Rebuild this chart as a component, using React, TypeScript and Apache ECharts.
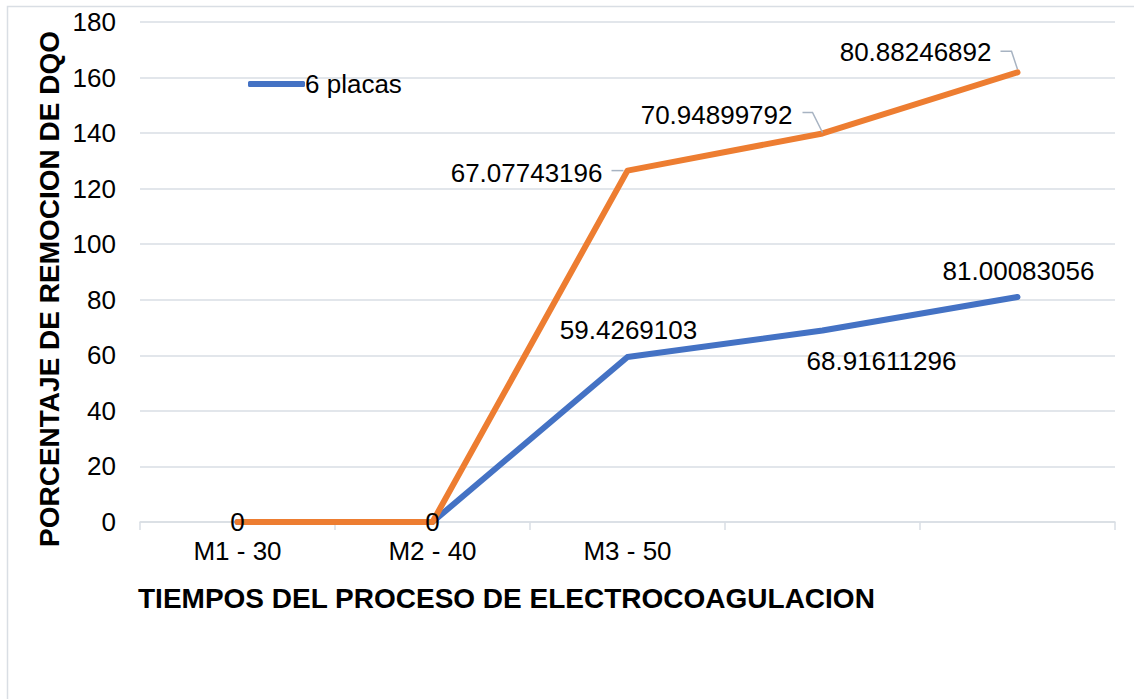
import React, { useEffect, useRef } from "react";
import * as echarts from "echarts";

const categories = ["M1 - 30", "M2 - 40", "M3 - 50", "", ""];
const seriesBlueName = "6 placas";
const seriesOrangeName = "Serie 2";
const blueValues = [0, 0, 59.4269103, 68.91611296, 81.00083056];
const orangeValues = [0, 0, 67.07743196, 70.94899792, 80.88246892];
const yTicks = { min: 0, max: 180, interval: 20 };
const xTitle = "TIEMPOS DEL PROCESO DE ELECTROCOAGULACION";
const yTitle = "PORCENTAJE DE REMOCION DE DQO";

// label placement (pixel offsets from each point), kept apart from data
const blueLabelOffsets: (number[] | null)[] = [null, null, [1, -27], [59, 30], [1, -26]];
const orangeLabelOffsets: number[][] = [[0, 0], [0, 0], [-25, 2], [-30, -18], [-26, -20]];
const orangeLabelAlign = ["center", "center", "right", "right", "right"];
const orangeLeaders: (number[][] | null)[] = [
  null,
  null,
  [[-16, 0], [-4, 0]],
  [[-20, -21], [-10, -21], [0, -1]],
  [[-17, -21], [-6, -21], [0, -3]],
];

const FONT = "'Liberation Sans', Arial, sans-serif";
const BLUE = "#4472C4";
const ORANGE = "#ED7D31";
const GRID = "#D9DEE4";
const LEADER = "#A7B3C2";

export default function App() {
  const ref = useRef<HTMLDivElement>(null);

  useEffect(() => {
    if (!ref.current) return;
    const chart = echarts.init(ref.current, null, { renderer: "svg" });

    const fmt = (p: any) => String(p.value);

    const blueData = blueValues.map((v, i) => {
      const off = blueLabelOffsets[i];
      return {
        value: v,
        label: off
          ? { show: true, position: "inside", align: "center", verticalAlign: "middle", offset: off }
          : { show: false },
      };
    });
    const orangeData = orangeValues.map((v, i) => ({
      value: v,
      label: {
        show: true,
        position: "inside",
        align: orangeLabelAlign[i],
        verticalAlign: "middle",
        offset: orangeLabelOffsets[i],
      },
    }));

    const labelText = { fontSize: 26, fontFamily: FONT, color: "#000", formatter: fmt };

    chart.setOption({
      animation: false,
      backgroundColor: "#fff",
      textStyle: { fontFamily: FONT },
      grid: { left: 140, right: 19, top: 22, bottom: 177, containLabel: false },
      legend: {
        data: [seriesBlueName],
        left: 243,
        top: 66,
        icon: "roundRect",
        itemWidth: 57,
        itemHeight: 6,
        itemGap: 4,
        textStyle: { fontSize: 26, color: "#000", fontFamily: FONT, padding: [0, 0, 0, -5] },
        selectedMode: false,
      },
      xAxis: {
        type: "category",
        data: categories,
        boundaryGap: true,
        axisLine: { show: true, lineStyle: { color: GRID, width: 1.5 } },
        axisTick: { show: true, length: 8, lineStyle: { color: GRID, width: 1.5 } },
        axisLabel: { fontSize: 26, color: "#000", fontFamily: FONT, margin: 16, interval: 0 },
        splitLine: { show: false },
      },
      yAxis: {
        type: "value",
        min: yTicks.min,
        max: yTicks.max,
        interval: yTicks.interval,
        axisLine: { show: false },
        axisTick: { show: false },
        axisLabel: { fontSize: 26, color: "#000", fontFamily: FONT, margin: 24 },
        splitLine: { show: true, lineStyle: { color: GRID, width: 1.5 } },
      },
      series: [
        {
          name: seriesBlueName,
          type: "line",
          stack: "total",
          data: blueData,
          color: BLUE,
          symbol: "circle",
          symbolSize: 5,
          showSymbol: true,
          lineStyle: { width: 6, color: BLUE, cap: "round", join: "round" },
          itemStyle: { color: BLUE },
          label: { ...labelText },
          emphasis: { disabled: true },
          z: 2,
        },
        {
          name: seriesOrangeName,
          type: "line",
          stack: "total",
          data: orangeData,
          color: ORANGE,
          symbol: "circle",
          symbolSize: 5,
          showSymbol: true,
          lineStyle: { width: 6, color: ORANGE, cap: "round", join: "round" },
          itemStyle: { color: ORANGE },
          label: { ...labelText },
          emphasis: { disabled: true },
          z: 3,
        },
      ],
    });

    // leader lines for the orange labels, placed through the chart's own scale
    const leaderGraphics: any[] = [];
    orangeLeaders.forEach((pts, i) => {
      if (!pts) return;
      const stacked = blueValues[i] + orangeValues[i];
      const p = chart.convertToPixel({ seriesIndex: 1 }, [i, stacked]) as number[];
      leaderGraphics.push({
        type: "polyline",
        z: 10,
        shape: { points: pts.map((d) => [p[0] + d[0], p[1] + d[1]]) },
        style: { stroke: LEADER, lineWidth: 1.5, fill: "none" },
        silent: true,
      });
    });

    chart.setOption({
      graphic: [
        {
          type: "rect",
          shape: { x: 7.5, y: 6.5, width: 1140, height: 710 },
          style: { fill: "none", stroke: GRID, lineWidth: 1.5 },
          silent: true,
          z: 0,
        },
        {
          type: "text",
          x: 138,
          y: 598,
          style: {
            text: xTitle,
            font: `bold 28px ${FONT}`,
            fill: "#000",
            textAlign: "left",
            textVerticalAlign: "middle",
          },
        },
        {
          type: "text",
          x: 49,
          y: 289,
          rotation: Math.PI / 2,
          style: {
            text: yTitle,
            font: `bold 28px ${FONT}`,
            fill: "#000",
            textAlign: "center",
            textVerticalAlign: "middle",
          },
        },
        ...leaderGraphics,
      ],
    });

    return () => chart.dispose();
  }, []);

  return (
    <div
      ref={ref}
      style={{ position: "fixed", left: 0, top: 0, width: 1134, height: 699 }}
    />
  );
}
